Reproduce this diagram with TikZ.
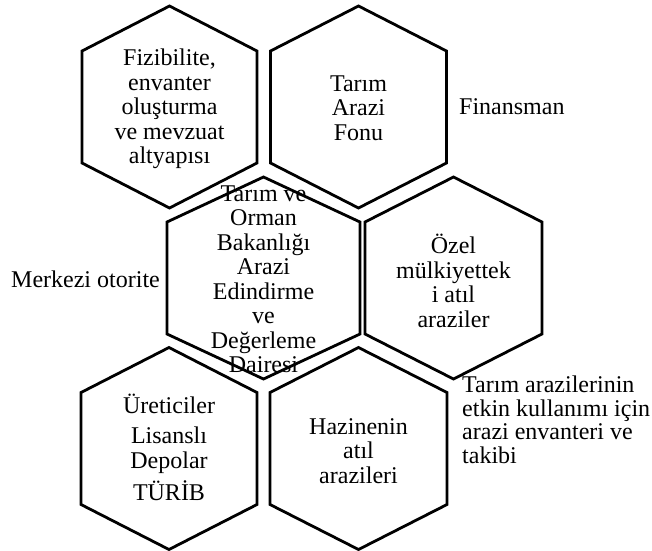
\documentclass[tikz,border=0pt]{standalone}
\usepackage{fontspec}
\setmainfont{Liberation Serif}
\usepackage{tikz}

\newcommand{\celltext}{\fontsize{24}{24.5}\selectfont}
\newcommand{\sidetext}{\fontsize{24}{23.6}\selectfont}
% hexagon with its top vertex up: centre x, centre y, half width
\newcommand{\hexcell}[3]{%
  \draw [hexline] (#1,#2-101) -- (#1+#3,#2-56) -- (#1+#3,#2+56) -- (#1,#2+101)
    -- (#1-#3,#2+56) -- (#1-#3,#2-56) -- cycle;}

\begin{document}
\begin{tikzpicture}[x=1pt, y=-1pt,
  hexline/.style={line width=2.8pt, line join=miter},
  cell/.style={align=center, font=\celltext, inner sep=0pt},
  side/.style={align=left, font=\sidetext, inner sep=0pt}]
\useasboundingbox (0,0) rectangle (652,550);
\hexcell{169.5}{107}{87.5}
\hexcell{358.5}{107}{88}
\hexcell{263.5}{278}{96.5}
\hexcell{453.5}{278}{88.5}
\hexcell{169}{448.5}{88}
\hexcell{358.5}{448.5}{88.5}
\node at (169.5, 109) [cell] (fiz) {Fizibilite,\\envanter\\oluşturma\\ve mevzuat\\altyapısı};
\node at (358.5, 108) [cell] (fon) {Tarım\\Arazi\\Fonu};
\node at (263.5, 279) [cell] (tob) {Tarım ve\\Orman\\Bakanlığı\\Arazi\\Edindirme\\ve\\Değerleme\\Dairesi};
\node at (453.5, 281) [cell] (ozel) {Özel\\mülkiyettek\\i atıl\\araziler};
\node at (169, 447) [cell] (uret) {Üreticiler\\[6pt]Lisanslı\\Depolar\\[6pt]TÜRİB};
\node at (358.5, 451) [cell] (hazine) {Hazinenin\\atıl\\arazileri};
\node at (459, 114) [side, anchor=base west] (finans) {Finansman};
\node at (11, 287) [side, anchor=base west] (merkez) {Merkezi otorite};
\node at (462, 375.6) [side, anchor=north west] (takip) {Tarım arazilerinin\\etkin kullanımı için\\arazi envanteri ve\\takibi};
\end{tikzpicture}
\end{document}
